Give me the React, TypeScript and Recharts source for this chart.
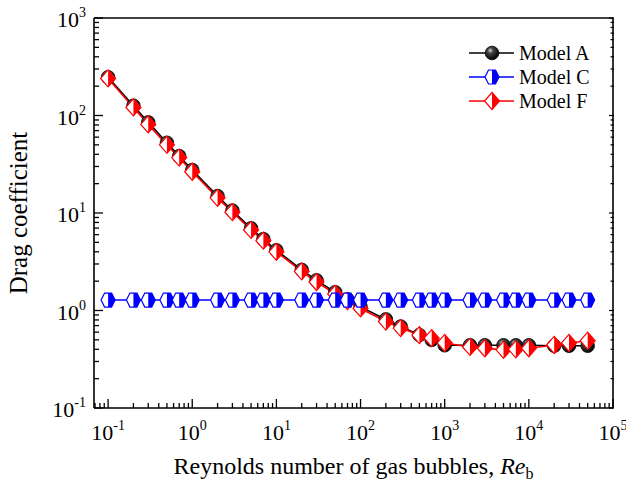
import { LineChart, Line, XAxis, YAxis, Legend } from "recharts";

// Bubble Reynolds number at each evaluated point
const reynolds = [
  0.1, 0.2, 0.3, 0.5, 0.7, 1, 2, 3, 5, 7, 10, 20, 30, 50, 70, 100, 200, 300,
  500, 700, 1000, 2000, 3000, 5000, 7000, 10000, 20000, 30000, 50000,
];

// Drag coefficient for each model
const modelA = [
  247, 126, 85, 52.5, 38.3, 27.6, 14.9, 10.6, 6.97, 5.39, 4.15, 2.61, 2.04,
  1.54, 1.3, 1.09, 0.81, 0.685, 0.56, 0.5, 0.44, 0.44, 0.44, 0.44, 0.44, 0.44,
  0.435, 0.435, 0.435,
];
const modelC = [
  1.28, 1.28, 1.28, 1.28, 1.28, 1.28, 1.28, 1.28, 1.28, 1.28, 1.28, 1.28, 1.28,
  1.28, 1.28, 1.28, 1.28, 1.28, 1.28, 1.28, 1.28, 1.28, 1.28, 1.28, 1.28, 1.28,
  1.28, 1.28, 1.28,
];
const modelF = [
  240, 121, 81, 50, 37, 26.5, 14.3, 10.2, 6.7, 5.2, 4.0, 2.52, 1.96, 1.48,
  1.25, 1.05, 0.77, 0.66, 0.56, 0.52, 0.465, 0.423, 0.41, 0.395, 0.4, 0.41,
  0.443, 0.465, 0.49,
];

const seriesNames = ["Model A", "Model C", "Model F"];

const xTicks = [
  0.07, 0.08, 0.09, 0.1, 0.2, 0.3, 0.4, 0.5, 0.6, 0.7, 0.8, 0.9, 1, 2, 3, 4, 5,
  6, 7, 8, 9, 10, 20, 30, 40, 50, 60, 70, 80, 90, 100, 200, 300, 400, 500, 600,
  700, 800, 900, 1000, 2000, 3000, 4000, 5000, 6000, 7000, 8000, 9000, 10000,
  20000, 30000, 40000, 50000, 60000, 70000, 80000, 90000, 100000,
];
const yTicks = [
  0.1, 0.2, 0.3, 0.4, 0.5, 0.6, 0.7, 0.8, 0.9, 1, 2, 3, 4, 5, 6, 7, 8, 9, 10,
  20, 30, 40, 50, 60, 70, 80, 90, 100, 200, 300, 400, 500, 600, 700, 800, 900,
  1000,
];

const data = reynolds.map((re, i) => ({
  re,
  a: modelA[i],
  c: modelC[i],
  f: modelF[i],
}));

const textStyle = { fontFamily: "Liberation Serif" };

const isMajor = (v: number) =>
  Math.abs(Math.log10(v) - Math.round(Math.log10(v))) < 1e-6;
const expOf = (v: number) => String(Math.round(Math.log10(v)));

function BottomTick({ x, y, payload }: any) {
  const v = payload.value;
  const major = isMajor(v);
  return (
    <g>
      <line x1={x} x2={x} y1={y} y2={y - (major ? 9 : 5)} stroke="#000" strokeWidth={1.3} />
      {major && (
        <text x={x} y={y + 32} textAnchor="middle" style={textStyle} fontSize={22} fill="#000">
          10
          <tspan dy={-10} fontSize={14}>
            {expOf(v)}
          </tspan>
        </text>
      )}
    </g>
  );
}

function LeftTick({ x, y, payload }: any) {
  const v = payload.value;
  const major = isMajor(v);
  return (
    <g>
      <line x1={x} x2={x + (major ? 9 : 5)} y1={y} y2={y} stroke="#000" strokeWidth={1.3} />
      {major && (
        <text x={x - 8} y={y + 9} textAnchor="end" style={textStyle} fontSize={22} fill="#000">
          10
          <tspan dy={-10} fontSize={14}>
            {expOf(v)}
          </tspan>
        </text>
      )}
    </g>
  );
}

function TopTick({ x, y, payload }: any) {
  const len = isMajor(payload.value) ? 4 : 2.5;
  return <line x1={x} x2={x} y1={y - 1} y2={y + len} stroke="#000" strokeWidth={1.2} />;
}

function RightTick({ x, y, payload }: any) {
  const len = isMajor(payload.value) ? 4 : 2.5;
  return <line x1={x + 1} x2={x - len} y1={y} y2={y} stroke="#000" strokeWidth={1.2} />;
}

// black ball marker
function Ball({ cx, cy, gradId }: { cx: number; cy: number; gradId: string }) {
  return <circle cx={cx} cy={cy} r={6.8} fill={`url(#${gradId})`} stroke="#000" strokeWidth={0.8} />;
}

// hexagon, left half hollow / right half filled
function HalfHex({ cx, cy }: { cx: number; cy: number }) {
  const w = 7;
  const h = 7;
  const q = 3.5;
  const outline = `${cx - w},${cy} ${cx - q},${cy - h} ${cx + q},${cy - h} ${cx + w},${cy} ${cx + q},${cy + h} ${cx - q},${cy + h}`;
  const right = `${cx},${cy - h} ${cx + q},${cy - h} ${cx + w},${cy} ${cx + q},${cy + h} ${cx},${cy + h}`;
  return (
    <g>
      <polygon points={outline} fill="#fff" />
      <polygon points={right} fill="#0000ff" />
      <polygon points={outline} fill="none" stroke="#0000ff" strokeWidth={1.2} />
    </g>
  );
}

// diamond, left half hollow / right half filled
function HalfDiamond({ cx, cy }: { cx: number; cy: number }) {
  const w = 7.5;
  const h = 8.5;
  const outline = `${cx - w},${cy} ${cx},${cy - h} ${cx + w},${cy} ${cx},${cy + h}`;
  const right = `${cx},${cy - h} ${cx + w},${cy} ${cx},${cy + h}`;
  return (
    <g>
      <polygon points={outline} fill="#fff" />
      <polygon points={right} fill="#ff0000" />
      <polygon points={outline} fill="none" stroke="#ff0000" strokeWidth={1.2} />
    </g>
  );
}

function BallGradient({ id }: { id: string }) {
  return (
    <radialGradient id={id} cx="38%" cy="32%" r="70%">
      <stop offset="0%" stopColor="#d8d8d8" />
      <stop offset="30%" stopColor="#444" />
      <stop offset="100%" stopColor="#000" />
    </radialGradient>
  );
}

const legendColors = ["#000", "#0000ff", "#ff0000"];

function ModelLegend() {
  return (
    <svg width={150} height={80}>
      <defs>
        <BallGradient id="ballLegend" />
      </defs>
      {seriesNames.map((name, i) => {
        const cy = 15 + i * 24;
        return (
          <g key={name}>
            <line x1={7} x2={52} y1={cy} y2={cy} stroke={legendColors[i]} strokeWidth={1.6} />
            {i === 0 && <Ball cx={30} cy={cy} gradId="ballLegend" />}
            {i === 1 && <HalfHex cx={30} cy={cy} />}
            {i === 2 && <HalfDiamond cx={30} cy={cy} />}
            <text x={57} y={cy + 7} style={textStyle} fontSize={20} fill="#000">
              {name}
            </text>
          </g>
        );
      })}
    </svg>
  );
}

export default function App() {
  return (
    <div style={{ position: "absolute", left: 0, top: 0, width: 626, height: 487, background: "#fff" }}>
      <LineChart width={626} height={487} data={data} margin={{ top: 0, right: 0, bottom: 0, left: 0 }}>
        <defs>
          <BallGradient id="ballFill" />
        </defs>
        <XAxis
          dataKey="re"
          type="number"
          scale="log"
          domain={[0.068, 100000]}
          allowDataOverflow
          ticks={xTicks}
          interval={0}
          height={79}
          tickSize={0}
          tickMargin={0}
          tickLine={false}
          axisLine={{ stroke: "#000", strokeWidth: 1.6 }}
          tick={<BottomTick />}
          label={{
            content: ({ viewBox }: any) => (
              <text
                x={viewBox.x + viewBox.width / 2}
                y={viewBox.y + 66}
                textAnchor="middle"
                style={textStyle}
                fontSize={24}
                fill="#000"
              >
                Reynolds number of gas bubbles,{" "}
                <tspan fontStyle="italic">Re</tspan>
                <tspan fontSize={16} dy={5}>
                  b
                </tspan>
              </text>
            ),
          }}
        />
        <XAxis
          xAxisId="top"
          orientation="top"
          type="number"
          scale="log"
          domain={[0.068, 100000]}
          allowDataOverflow
          ticks={xTicks}
          interval={0}
          height={18}
          tickSize={0}
          tickMargin={0}
          tickLine={false}
          axisLine={{ stroke: "#000", strokeWidth: 1.6 }}
          tick={<TopTick />}
        />
        <YAxis
          type="number"
          scale="log"
          domain={[0.1, 1000]}
          allowDataOverflow
          ticks={yTicks}
          interval={0}
          width={94}
          tickSize={0}
          tickMargin={0}
          tickLine={false}
          axisLine={{ stroke: "#000", strokeWidth: 1.6 }}
          tick={<LeftTick />}
          label={{
            content: ({ viewBox }: any) => {
              const lx = viewBox.x + 27;
              const ly = viewBox.y + viewBox.height / 2;
              return (
                <text
                  x={lx}
                  y={ly}
                  transform={`rotate(-90, ${lx}, ${ly})`}
                  textAnchor="middle"
                  style={textStyle}
                  fontSize={25}
                  fill="#000"
                >
                  Drag coefficient
                </text>
              );
            },
          }}
        />
        <YAxis
          yAxisId="right"
          orientation="right"
          type="number"
          scale="log"
          domain={[0.1, 1000]}
          allowDataOverflow
          ticks={yTicks}
          interval={0}
          width={13}
          tickSize={0}
          tickMargin={0}
          tickLine={false}
          axisLine={{ stroke: "#000", strokeWidth: 1.6 }}
          tick={<RightTick />}
        />
        <Legend
          layout="vertical"
          align="center"
          verticalAlign="middle"
          content={() => <ModelLegend />}
          wrapperStyle={{ left: 462, top: 38, width: 150, height: 80 }}
        />
        <Line
          dataKey="a"
          name={seriesNames[0]}
          stroke="#000"
          strokeWidth={1.6}
          isAnimationActive={false}
          dot={(p: any) => <Ball key={`a-${p.index}`} cx={p.cx} cy={p.cy} gradId="ballFill" />}
        />
        <Line
          dataKey="f"
          name={seriesNames[2]}
          stroke="#ff0000"
          strokeWidth={1.6}
          isAnimationActive={false}
          dot={(p: any) => <HalfDiamond key={`f-${p.index}`} cx={p.cx} cy={p.cy} />}
        />
        <Line
          dataKey="c"
          name={seriesNames[1]}
          stroke="#0000ff"
          strokeWidth={1.6}
          isAnimationActive={false}
          dot={(p: any) => <HalfHex key={`c-${p.index}`} cx={p.cx} cy={p.cy} />}
        />
      </LineChart>
    </div>
  );
}
